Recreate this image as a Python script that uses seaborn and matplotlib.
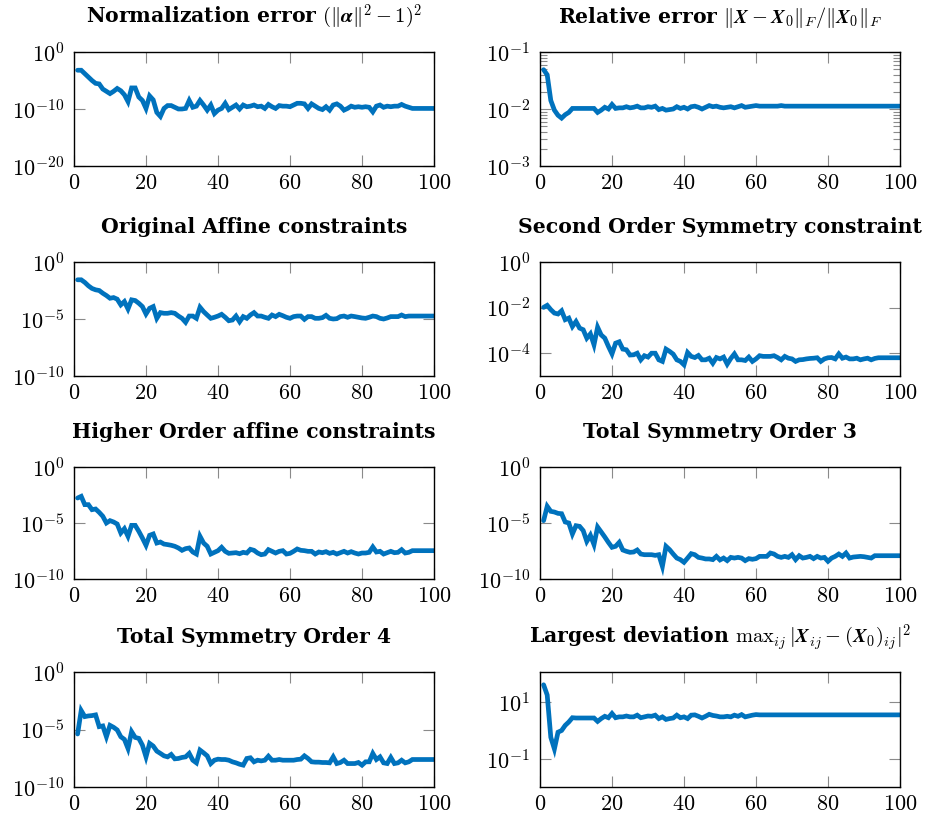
import numpy as np
import pandas as pd
import matplotlib
matplotlib.use("Agg")
import matplotlib.pyplot as plt
import matplotlib.ticker as mticker
import seaborn as sns

# ---------------- data (log10 of the plotted quantity) -------------
iterations = list(range(1, 101))

norm_err_log10 = [
    -3.2, -3.2, -3.8, -4.4, -5.0, -5.5, -5.6, -6.5, -6.9, -7.3,
    -6.9, -6.4, -6.8, -7.5, -8.7, -6.3, -6.3, -7.9, -8.5, -9.9,
    -7.7, -8.4, -10.6, -11.3, -9.9, -9.4, -9.4, -9.7, -10.0, -10.0,
    -9.9, -8.5, -9.7, -9.5, -8.5, -9.3, -10.2, -9.3, -10.8, -10.2,
    -9.9, -9.0, -10.1, -9.7, -9.3, -10.0, -9.3, -9.6, -9.5, -9.3,
    -9.6, -9.5, -9.9, -9.2, -9.6, -9.9, -9.4, -9.5, -9.5, -9.6,
    -9.3, -9.0, -9.0, -9.1, -9.9, -9.1, -9.5, -9.9, -10.1, -9.6,
    -10.2, -9.3, -9.1, -9.5, -10.2, -9.9, -9.5, -9.7, -9.6, -9.7,
    -9.6, -9.7, -10.5, -9.5, -9.3, -9.7, -9.5, -9.6, -9.5, -9.5,
    -9.2, -9.5, -9.7, -9.9, -9.9, -9.9, -9.9, -9.9, -9.9, -9.9,
]

rel_err_log10 = [
    -1.31, -1.40, -1.85, -2.02, -2.11, -2.16, -2.10, -2.06, -1.99, -1.99,
    -1.99, -1.99, -1.99, -1.99, -1.99, -2.06, -2.02, -1.97, -2.00, -1.92,
    -1.99, -1.98, -1.98, -1.96, -1.98, -1.97, -1.95, -1.98, -1.98, -1.96,
    -1.97, -1.95, -2.01, -1.99, -2.02, -2.01, -2.00, -1.96, -1.99, -1.97,
    -2.00, -1.96, -1.95, -1.97, -2.00, -1.97, -1.94, -1.96, -1.95, -1.97,
    -1.98, -1.97, -1.96, -1.98, -1.96, -1.94, -1.97, -1.96, -1.95, -1.94,
    -1.95, -1.95, -1.95, -1.95, -1.95, -1.95, -1.94, -1.95, -1.95, -1.95,
    -1.95, -1.95, -1.95, -1.95, -1.95, -1.95, -1.95, -1.95, -1.95, -1.95,
    -1.95, -1.95, -1.95, -1.95, -1.95, -1.95, -1.95, -1.95, -1.95, -1.95,
    -1.95, -1.95, -1.95, -1.95, -1.95, -1.95, -1.95, -1.95, -1.95, -1.95,
]

affine_log10 = [
    -1.56, -1.56, -1.79, -2.09, -2.32, -2.44, -2.50, -2.74, -2.94, -3.18,
    -3.12, -3.26, -3.76, -3.47, -4.12, -3.32, -3.38, -3.62, -3.91, -4.56,
    -4.06, -3.91, -4.94, -4.44, -4.50, -4.50, -4.44, -4.50, -4.74, -4.94,
    -5.29, -4.74, -4.74, -4.94, -3.97, -4.35, -4.65, -4.94, -4.85, -4.74,
    -4.59, -4.85, -5.15, -5.09, -4.74, -5.24, -4.79, -4.94, -4.65, -4.44,
    -4.74, -4.74, -4.85, -4.94, -4.65, -4.79, -4.59, -4.71, -4.85, -4.94,
    -4.79, -4.74, -4.74, -5.03, -4.79, -4.79, -4.94, -4.94, -4.88, -4.68,
    -4.94, -5.00, -4.97, -4.79, -4.74, -4.85, -4.74, -4.79, -4.85, -4.91,
    -4.94, -4.85, -4.74, -4.79, -4.94, -5.00, -4.91, -4.79, -4.79, -4.79,
    -4.65, -4.79, -4.74, -4.74, -4.74, -4.74, -4.74, -4.74, -4.74, -4.74,
]

sym2_log10 = [
    -1.99, -1.90, -2.09, -2.24, -2.28, -2.14, -2.53, -2.46, -2.83, -2.61,
    -2.90, -2.97, -3.34, -3.15, -3.63, -2.86, -3.20, -3.34, -3.70, -4.03,
    -3.56, -3.50, -3.82, -3.85, -4.08, -4.07, -4.00, -4.29, -4.11, -4.17,
    -4.00, -4.00, -4.29, -4.36, -3.82, -3.92, -4.04, -4.29, -4.36, -4.51,
    -3.97, -4.14, -4.19, -4.10, -4.29, -4.29, -4.22, -4.44, -4.19, -4.25,
    -4.17, -4.48, -4.23, -4.03, -4.29, -4.29, -4.32, -4.17, -4.36, -4.25,
    -4.11, -4.14, -4.14, -4.14, -4.11, -4.19, -4.29, -4.14, -4.22, -4.25,
    -4.36, -4.29, -4.28, -4.25, -4.23, -4.22, -4.20, -4.36, -4.25, -4.20,
    -4.19, -4.25, -4.03, -4.22, -4.17, -4.25, -4.25, -4.22, -4.29, -4.25,
    -4.22, -4.29, -4.23, -4.20, -4.20, -4.20, -4.20, -4.20, -4.20, -4.20,
]

higher_log10 = [
    -2.77, -2.62, -3.36, -3.36, -3.81, -3.75, -4.05, -4.40, -5.00, -4.79,
    -4.91, -5.09, -5.89, -5.51, -6.19, -5.21, -5.21, -5.74, -6.34, -6.99,
    -6.10, -5.98, -6.79, -6.70, -6.88, -6.93, -6.99, -7.08, -7.23, -7.44,
    -7.29, -7.23, -7.59, -7.77, -6.19, -6.79, -7.08, -7.77, -7.62, -7.47,
    -7.17, -7.53, -7.71, -7.68, -7.65, -7.74, -7.62, -7.68, -7.35, -7.44,
    -7.68, -7.83, -7.77, -7.38, -7.53, -7.68, -7.53, -7.47, -7.77, -7.71,
    -7.53, -7.32, -7.44, -7.47, -7.53, -7.53, -7.77, -7.59, -7.65, -7.56,
    -7.71, -7.62, -7.77, -7.65, -7.53, -7.68, -7.56, -7.68, -7.77, -7.68,
    -7.68, -7.62, -7.14, -7.59, -7.53, -7.77, -7.65, -7.53, -7.65, -7.62,
    -7.38, -7.68, -7.62, -7.47, -7.47, -7.47, -7.47, -7.47, -7.47, -7.47,
]

sym3_log10 = [
    -4.79, -3.51, -3.96, -4.02, -4.14, -4.17, -4.91, -5.00, -5.98, -5.24,
    -5.30, -5.68, -6.64, -6.10, -6.93, -5.36, -5.80, -6.25, -6.73, -7.17,
    -7.08, -6.73, -7.41, -7.53, -7.62, -7.59, -7.41, -7.77, -7.83, -7.83,
    -7.83, -7.89, -7.83, -8.87, -7.08, -7.38, -7.77, -8.13, -8.27, -8.51,
    -8.13, -7.74, -7.83, -8.07, -8.13, -8.21, -8.21, -8.27, -7.98, -8.30,
    -8.13, -8.36, -8.07, -8.13, -8.07, -8.13, -8.36, -8.18, -8.24, -8.18,
    -7.98, -7.98, -7.98, -7.68, -7.77, -7.98, -8.07, -7.98, -8.07, -7.83,
    -8.27, -7.92, -8.13, -8.07, -7.98, -8.18, -7.98, -8.13, -8.07, -8.42,
    -8.13, -7.98, -7.77, -7.98, -7.68, -8.13, -8.04, -8.01, -7.98, -8.01,
    -8.07, -8.13, -7.92, -7.92, -7.92, -7.92, -7.92, -7.92, -7.92, -7.92,
]

sym4_log10 = [
    -5.39, -3.35, -3.88, -3.82, -3.79, -3.73, -4.75, -4.69, -5.63, -4.64,
    -4.81, -5.04, -5.63, -5.86, -6.65, -5.19, -5.69, -5.77, -6.36, -7.38,
    -6.21, -6.44, -6.88, -7.08, -7.29, -7.38, -7.17, -7.55, -7.52, -7.43,
    -7.38, -7.08, -7.67, -7.90, -6.79, -7.03, -7.29, -7.96, -7.67, -7.58,
    -7.61, -7.61, -7.67, -7.81, -7.90, -8.02, -8.10, -7.52, -7.46, -7.81,
    -7.67, -7.73, -7.67, -7.32, -7.67, -7.67, -7.61, -7.67, -7.67, -7.67,
    -7.67, -7.61, -7.58, -7.29, -7.52, -7.81, -7.84, -7.84, -7.87, -7.87,
    -7.90, -7.38, -7.96, -7.87, -7.67, -7.96, -7.96, -7.96, -7.87, -8.10,
    -7.81, -7.81, -7.08, -7.61, -7.38, -7.90, -7.96, -7.43, -7.96, -7.90,
    -7.67, -7.90, -7.81, -7.61, -7.61, -7.61, -7.61, -7.61, -7.61, -7.61,
]

deviation_log10 = [
    1.62, 1.26, -0.23, -0.64, -0.05, 0.01, 0.19, 0.31, 0.46, 0.45,
    0.45, 0.45, 0.45, 0.45, 0.45, 0.33, 0.43, 0.51, 0.46, 0.61,
    0.46, 0.49, 0.49, 0.52, 0.49, 0.49, 0.55, 0.46, 0.49, 0.52,
    0.51, 0.55, 0.43, 0.49, 0.40, 0.43, 0.45, 0.55, 0.46, 0.49,
    0.43, 0.55, 0.56, 0.51, 0.45, 0.51, 0.58, 0.54, 0.52, 0.49,
    0.49, 0.51, 0.49, 0.55, 0.51, 0.57, 0.49, 0.52, 0.55, 0.57,
    0.56, 0.56, 0.56, 0.56, 0.56, 0.56, 0.56, 0.56, 0.56, 0.56,
    0.56, 0.56, 0.56, 0.56, 0.56, 0.56, 0.56, 0.56, 0.56, 0.56,
    0.56, 0.56, 0.56, 0.56, 0.56, 0.56, 0.56, 0.56, 0.56, 0.56,
    0.56, 0.56, 0.56, 0.56, 0.56, 0.56, 0.56, 0.56, 0.56, 0.56,
]

titles = [
    r"Normalization error $(\|\mathbfit{\alpha}\|^2-1)^2$",
    r"Relative error $\|\mathbfit{X}-\mathbfit{X}_0\|_F/\|\mathbfit{X}_0\|_F$",
    "Original Affine constraints",
    "Second Order Symmetry constraint",
    "Higher Order affine constraints",
    "Total Symmetry Order 3",
    "Total Symmetry Order 4",
    r"Largest deviation $\mathrm{max}_{ij}\,|\mathbfit{X}_{ij}-(\mathbfit{X}_0)_{ij}|^2$",
]
series = [norm_err_log10, rel_err_log10, affine_log10, sym2_log10,
          higher_log10, sym3_log10, sym4_log10, deviation_log10]
y_limits = [(1e-20, 1e0), (1e-3, 1e-1), (1e-10, 1e0), (1e-5, 1e0),
            (1e-10, 1e0), (1e-10, 1e0), (1e-10, 1e0), (10 ** -1.98, 10 ** 2.07)]
y_ticks = [[1e-20, 1e-10, 1e0], [1e-3, 1e-2, 1e-1], [1e-10, 1e-5, 1e0],
           [1e-4, 1e-2, 1e0], [1e-10, 1e-5, 1e0], [1e-10, 1e-5, 1e0],
           [1e-10, 1e-5, 1e0], [1e-1, 1e1]]
x_ticks = [0, 20, 40, 60, 80, 100]

# ---------------- style -------------
sns.set_style("ticks")
plt.rcParams.update({
    "font.family": ["cmr10"],
    "mathtext.fontset": "cm",
    "axes.formatter.use_mathtext": True,
    "axes.unicode_minus": True,
    "text.color": "black",
})

LINE_COLOR = "#0072BD"
TICK_COLOR = "#8a8a8a"

W, H = 932, 819
fig = plt.figure(figsize=(W / 100, H / 100), dpi=100)

col_left = [74, 540]
ax_width = 360
rows = [(52, 166), (262, 376), (467, 579), (672, 787)]

for i, (title, vals) in enumerate(zip(titles, series)):
    r, c = divmod(i, 2)
    top, bot = rows[r]
    ax = fig.add_axes([col_left[c] / W, 1 - bot / H, ax_width / W, (bot - top) / H])
    df = pd.DataFrame({"iteration": iterations, "value": 10.0 ** np.array(vals)})
    sns.lineplot(data=df, x="iteration", y="value", ax=ax, color=LINE_COLOR,
                 linewidth=3.4, solid_joinstyle="miter")
    ax.set_yscale("log")
    ax.set_xlim(0, 100)
    ax.set_ylim(*y_limits[i])
    ax.set_xticks(x_ticks)
    ax.xaxis.set_major_formatter(mticker.FuncFormatter(lambda v, p: r"$\mathdefault{%d}$" % v))
    ax.yaxis.set_major_locator(mticker.FixedLocator(y_ticks[i]))
    ax.yaxis.set_major_formatter(mticker.LogFormatterSciNotation())
    if i == 1:
        ax.yaxis.set_minor_locator(mticker.LogLocator(base=10, subs=np.arange(2, 10)))
    else:
        ax.yaxis.set_minor_locator(mticker.NullLocator())
    ax.yaxis.set_minor_formatter(mticker.NullFormatter())
    ax.tick_params(which="both", direction="in", top=True, right=True,
                   color=TICK_COLOR, width=0.8, labelsize=16, labelcolor="black")
    ax.tick_params(which="major", length=8)
    ax.tick_params(which="minor", length=5)
    ax.tick_params(axis="x", pad=5.5)
    ax.tick_params(axis="y", pad=7)
    ax.set_xlabel("")
    ax.set_ylabel("")
    for sp in ax.spines.values():
        sp.set_color("black")
        sp.set_linewidth(1.0)
    ax.set_title(title, fontsize=14.7, family="DejaVu Serif", fontweight="bold",
                 color="black", pad=21)

fig.savefig("out.png", dpi=100)
